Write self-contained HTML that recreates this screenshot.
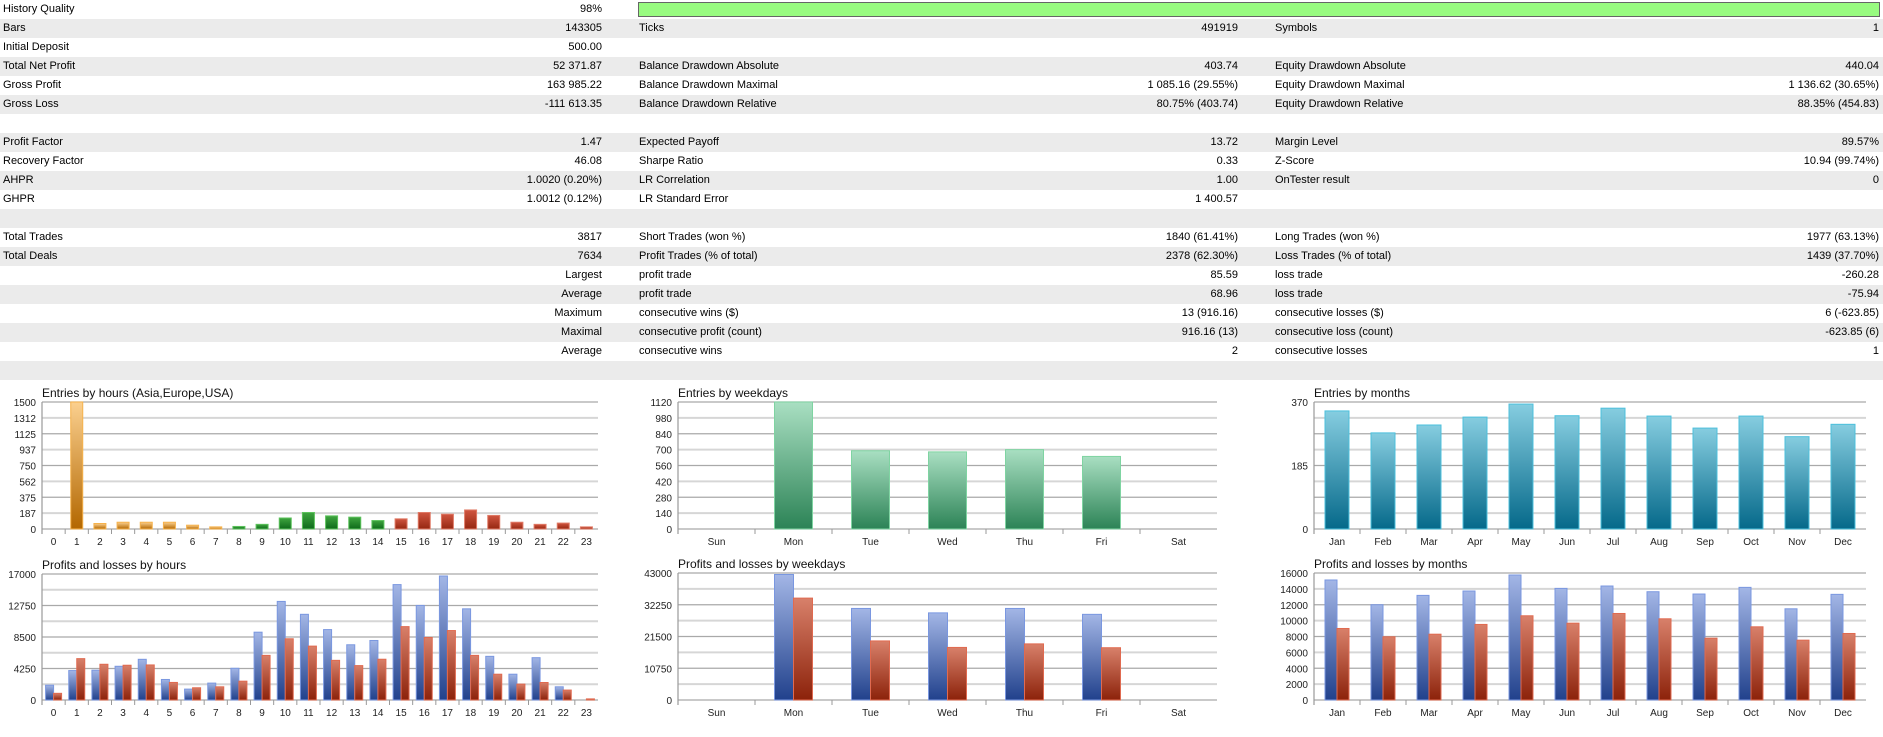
<!DOCTYPE html>
<html><head><meta charset="utf-8">
<style>
body{margin:0;width:1883px;height:737px;background:#fff;overflow:hidden;font-family:"Liberation Sans",sans-serif;color:#000}
.row{position:absolute;left:0;width:1883px;height:19px}
.g{background:#ebebeb}
.t{position:absolute;top:0;line-height:19px;font-size:11px;white-space:nowrap}
.r{text-align:right}
svg{position:absolute;left:0;top:0}
</style></head><body>
<div id="tbl"></div>
<div style="position:absolute;left:638px;top:2px;width:1240px;height:13px;background:#98fb80;border:1px solid #666"></div>
<svg id="ch" width="1883" height="737"></svg>
<script>
const rows=[
["History Quality","98%","","","",""],
["Bars","143305","Ticks","491919","Symbols","1"],
["Initial Deposit","500.00","","","",""],
["Total Net Profit","52 371.87","Balance Drawdown Absolute","403.74","Equity Drawdown Absolute","440.04"],
["Gross Profit","163 985.22","Balance Drawdown Maximal","1 085.16 (29.55%)","Equity Drawdown Maximal","1 136.62 (30.65%)"],
["Gross Loss","-111 613.35","Balance Drawdown Relative","80.75% (403.74)","Equity Drawdown Relative","88.35% (454.83)"],
["","","","","",""],
["Profit Factor","1.47","Expected Payoff","13.72","Margin Level","89.57%"],
["Recovery Factor","46.08","Sharpe Ratio","0.33","Z-Score","10.94 (99.74%)"],
["AHPR","1.0020 (0.20%)","LR Correlation","1.00","OnTester result","0"],
["GHPR","1.0012 (0.12%)","LR Standard Error","1 400.57","",""],
["","","","","",""],
["Total Trades","3817","Short Trades (won %)","1840 (61.41%)","Long Trades (won %)","1977 (63.13%)"],
["Total Deals","7634","Profit Trades (% of total)","2378 (62.30%)","Loss Trades (% of total)","1439 (37.70%)"],
["","Largest","profit trade","85.59","loss trade","-260.28"],
["","Average","profit trade","68.96","loss trade","-75.94"],
["","Maximum","consecutive wins ($)","13 (916.16)","consecutive losses ($)","6 (-623.85)"],
["","Maximal","consecutive profit (count)","916.16 (13)","consecutive loss (count)","-623.85 (6)"],
["","Average","consecutive wins","2","consecutive losses","1"],
["","","","","",""]];
const tbl=document.getElementById('tbl');
let h='';
rows.forEach((r,i)=>{
 h+=`<div class="row${i%2?' g':''}" style="top:${i*19}px">`+
 `<span class="t" style="left:3px">${r[0]}</span>`+
 `<span class="t r" style="right:${1883-602}px">${r[1]}</span>`+
 `<span class="t" style="left:639px">${r[2]}</span>`+
 `<span class="t r" style="right:${1883-1238}px">${r[3]}</span>`+
 `<span class="t" style="left:1275px">${r[4]}</span>`+
 `<span class="t r" style="right:${1883-1879}px">${r[5]}</span></div>`;
});
tbl.innerHTML=h;
</script>
<script>
// chart data
const hours=["0","1","2","3","4","5","6","7","8","9","10","11","12","13","14","15","16","17","18","19","20","21","22","23"];
const hourEntries=[0,1500,65,80,80,80,45,25,30,55,130,195,155,140,100,120,195,175,225,160,80,55,70,25];
const hourProfit=[2000,3970,4020,4550,5490,2770,1470,2280,4280,9150,13300,11560,9500,7450,8030,15570,12760,16730,12300,5890,3480,5710,1780,0];
const hourLoss=[900,5580,4820,4690,4730,2370,1650,1780,2540,6020,8260,7270,5350,4640,5500,9900,8430,9370,6020,3480,2140,2360,1340,150];
const hourEntryTicks=["0","187","375","562","750","937","1125","1312","1500"];
const hourPLTicks=["0","","4250","","8500","","12750","","17000"];
const days=["Sun","Mon","Tue","Wed","Thu","Fri","Sat"];
const dayEntries=[0,1120,690,680,700,640,0];
const dayProfit=[0,42500,31000,29500,31000,29000,0];
const dayLoss=[0,34500,20000,17800,19000,17700,0];
const dayEntryTicks=["0","140","280","420","560","700","840","980","1120"];
const dayPLTicks=["0","","10750","","21500","","32250","","43000"];
const months=["Jan","Feb","Mar","Apr","May","Jun","Jul","Aug","Sep","Oct","Nov","Dec"];
const monthEntries=[344,280,303,326,364,330,352,329,294,329,269,305];
const monthProfit=[15120,12000,13180,13730,15750,14060,14360,13640,13350,14190,11490,13310];
const monthLoss=[9010,7960,8290,9520,10610,9680,10900,10230,7790,9220,7540,8380];
const monthEntryTicks=["0","","","","185","","","","370"];
const monthPLTicks=["0","2000","4000","6000","8000","10000","12000","14000","16000"];

const NS='http://www.w3.org/2000/svg';
const svg=document.getElementById('ch');
function el(tag,attrs,parent){const e=document.createElementNS(NS,tag);for(const k in attrs)e.setAttribute(k,attrs[k]);(parent||svg).appendChild(e);return e;}
const defs=el('defs',{});
function grad(id,c1,c2){const g=el('linearGradient',{id:id,x1:0,y1:0,x2:0,y2:1},defs);el('stop',{offset:0,'stop-color':c1},g);el('stop',{offset:1,'stop-color':c2},g);}
grad('gOr','#fbd08f','#b36700');grad('gGr','#3fa53f','#0d6a1a');grad('gRd','#d05540','#952711');
grad('gWk','#a9dfc2','#2c8356');grad('gMo','#86cde0','#05698a');grad('gBl','#a3b6e6','#21418c');grad('gLs','#d8806a','#8c220a');

function frame(x0,w,top,bot,maxv,ticks,cats,title,name){
  const g=el('g',{});
  
  
  const t=el('text',{x:x0,y:top-5,'font-size':12,fill:'#111'},g);t.textContent=title;
  
  const n=ticks.length-1;
  ticks.forEach((lab,i)=>{
    const y=bot-(bot-top)*i/n;
    el('line',{x1:x0,x2:x0+w,y1:y,y2:y,stroke:i%2?'#d6d6d6':'#a9a9a9','stroke-width':i%2?2:1.2},g);
    if(lab!==''){const tx=el('text',{x:x0-6,y:y+4,'font-size':10,'text-anchor':'end',fill:'#222'},g);tx.textContent=lab;
      }
  });
  el('line',{x1:x0,x2:x0,y1:top,y2:bot+5,stroke:'#999','stroke-width':1.2},g);
  const cw=w/cats.length;
  cats.forEach((c,i)=>{
    el('line',{x1:x0+i*cw,x2:x0+i*cw,y1:bot,y2:bot+5,stroke:'#999'},g);
    const tx=el('text',{x:x0+i*cw+cw/2,y:bot+16,'font-size':10,'text-anchor':'middle',fill:'#222'},g);tx.textContent=c;
    
  });
  const yS=v=>bot-(bot-top)*v/maxv;
  return {g,cw,yS,x0,bot};
}
function bars(f,vals,bw,off,fillFn,strokeFn){
  vals.forEach((v,i)=>{
    if(v<=0)return;
    const y=f.yS(v);
    const r=el('rect',{x:f.x0+i*f.cw+off,y:y,width:bw,height:f.bot-y,fill:fillFn(i),stroke:strokeFn(i),'stroke-width':1},f.g);
    
    
  });
}
// Chart 1
let f=frame(42,556,402,529,1500,hourEntryTicks,hours,'Entries by hours (Asia,Europe,USA)','entries-by-hours-chart');
bars(f,hourEntries,12,(f.cw-12)/2,i=>i<8?'url(#gOr)':i<15?'url(#gGr)':'url(#gRd)',i=>i<8?'#f6b24c':i<15?'#5cc25c':'#e07a66');
f=frame(42,556,574,700,17000,hourPLTicks,hours,'Profits and losses by hours','pl-by-hours-chart');
bars(f,hourProfit,8,f.cw/2-8,()=>'url(#gBl)',()=>'#7a97e0');
bars(f,hourLoss,8,f.cw/2,()=>'url(#gLs)',()=>'#e06a50');
// Chart 2
f=frame(678,539,402,529,1120,dayEntryTicks,days,'Entries by weekdays','entries-by-weekdays-chart');
bars(f,dayEntries,38,(f.cw-38)/2,()=>'url(#gWk)',()=>'#7fd4a2');
f=frame(678,539,573,700,43000,dayPLTicks,days,'Profits and losses by weekdays','pl-by-weekdays-chart');
bars(f,dayProfit,19,f.cw/2-19,()=>'url(#gBl)',()=>'#7a97e0');
bars(f,dayLoss,19,f.cw/2,()=>'url(#gLs)',()=>'#e06a50');
// Chart 3
f=frame(1314,552,402,529,370,monthEntryTicks,months,'Entries by months','entries-by-months-chart');
bars(f,monthEntries,24,(f.cw-24)/2,()=>'url(#gMo)',()=>'#4cc0dc');
f=frame(1314,552,573,700,16000,monthPLTicks,months,'Profits and losses by months','pl-by-months-chart');
bars(f,monthProfit,12,f.cw/2-12,()=>'url(#gBl)',()=>'#7a97e0');
bars(f,monthLoss,12,f.cw/2,()=>'url(#gLs)',()=>'#e06a50');
</script>
</body></html>
